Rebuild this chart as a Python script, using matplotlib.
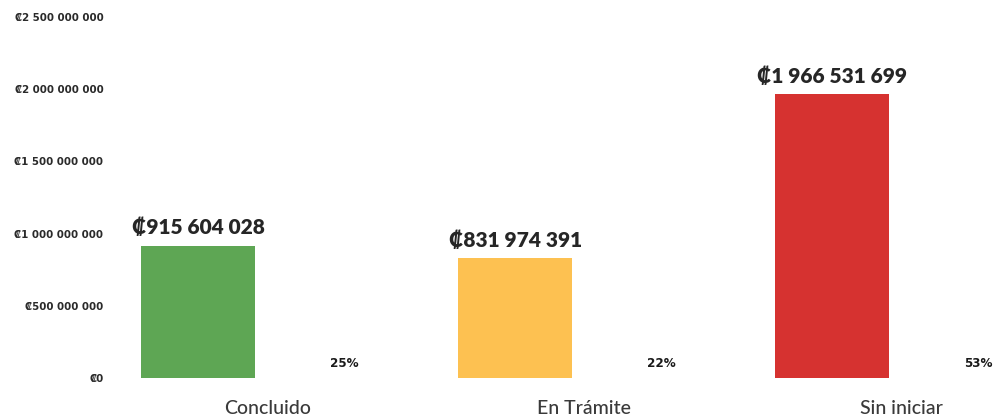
import matplotlib
matplotlib.use("Agg")
import matplotlib.pyplot as plt
from matplotlib.ticker import FuncFormatter

categories = ["Concluido", "En Trámite", "Sin iniciar"]
montos = [915604028, 831974391, 1966531699]
porcentajes = [25, 22, 53]
colores = ["#5ea654", "#fdc151", "#d63230"]
y_ticks = [0, 500_000_000, 1_000_000_000, 1_500_000_000, 2_000_000_000, 2_500_000_000]

fam = ["Lato", "DejaVu Sans"]
plt.rcParams["font.family"] = fam


def colones(v):
    s = f"{int(v):,}".replace(",", " ")
    return "₡" + s


fig = plt.figure(figsize=(9.94, 4.17), dpi=100)
ax = fig.add_axes([109 / 994, 1 - 378 / 417, 1 - 109 / 994, (378 - 17) / 417])

x = list(range(len(categories)))
offset_bar = -0.218
offset_pct = 0.243
width = 0.36

bars = ax.bar([i + offset_bar for i in x], montos, width=width, color=colores)

for i, v in enumerate(montos):
    ax.annotate(colones(v), (i + offset_bar, v), xytext=(0, 6), textcoords="offset points",
                ha="center", va="bottom", fontsize=15, fontweight="heavy", color="#262626",
                family=fam)

for i, p in enumerate(porcentajes):
    ax.text(i + offset_pct, 97_000_000, f"{p}%", ha="center", va="center",
            fontsize=9.5, fontweight="heavy", color="#1a1a1a", family=["DejaVu Sans"],
            fontstretch="condensed")

ax.set_xlim(-0.5, 2.293)
ax.set_ylim(0, 2_500_000_000)
ax.set_yticks(y_ticks)
ax.yaxis.set_major_formatter(FuncFormatter(lambda v, _: colones(v)))
ax.set_xticks(x)
ax.set_xticklabels(categories, fontsize=14, color="#3a3a3a", fontweight="medium")
ax.tick_params(axis="x", length=0, pad=16)
ax.tick_params(axis="y", length=0, pad=4)
for lbl in ax.get_yticklabels():
    lbl.set_fontsize(8.2)
    lbl.set_fontweight("heavy")
    lbl.set_color("#2a2a2a")
    lbl.set_family(["DejaVu Sans"])
    lbl.set_fontstretch("condensed")
for s in ax.spines.values():
    s.set_visible(False)

fig.savefig("out.png", dpi=100, facecolor="white")
